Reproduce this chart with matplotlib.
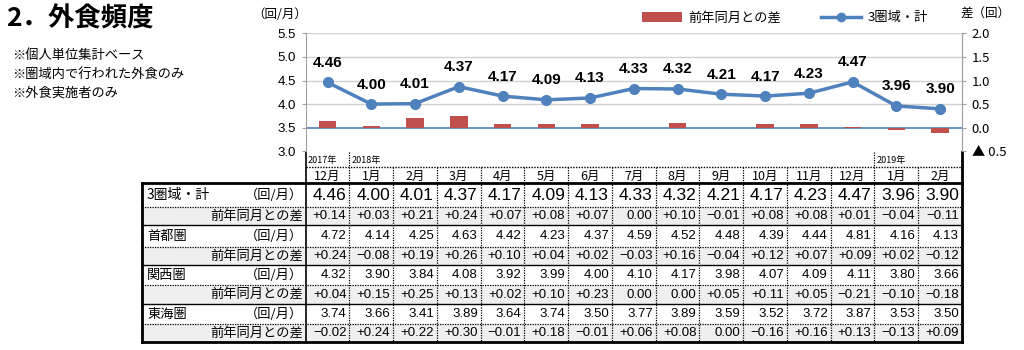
import matplotlib.pyplot as plt
from matplotlib.lines import Line2D
from matplotlib.patches import Patch, Rectangle

plt.rcParams['font.family'] = ['Noto Sans CJK JP', 'DejaVu Sans']
num_font = ['Liberation Sans', 'DejaVu Sans']

months = ['12月', '1月', '2月', '3月', '4月', '5月', '6月', '7月', '8月',
          '9月', '10月', '11月', '12月', '1月', '2月']
year_labels = ['2017年', '2018年', '2019年']
year_starts = [0, 1, 13]

total = [4.46, 4.00, 4.01, 4.37, 4.17, 4.09, 4.13, 4.33, 4.32, 4.21, 4.17, 4.23, 4.47, 3.96, 3.90]
total_diff = [0.14, 0.03, 0.21, 0.24, 0.07, 0.08, 0.07, 0.00, 0.10, -0.01, 0.08, 0.08, 0.01, -0.04, -0.11]
shutoken = [4.72, 4.14, 4.25, 4.63, 4.42, 4.23, 4.37, 4.59, 4.52, 4.48, 4.39, 4.44, 4.81, 4.16, 4.13]
shutoken_diff = [0.24, -0.08, 0.19, 0.26, 0.10, 0.04, 0.02, -0.03, 0.16, -0.04, 0.12, 0.07, 0.09, 0.02, -0.12]
kansai = [4.32, 3.90, 3.84, 4.08, 3.92, 3.99, 4.00, 4.10, 4.17, 3.98, 4.07, 4.09, 4.11, 3.80, 3.66]
kansai_diff = [0.04, 0.15, 0.25, 0.13, 0.02, 0.10, 0.23, 0.00, 0.00, 0.05, 0.11, 0.05, -0.21, -0.10, -0.18]
tokai = [3.74, 3.66, 3.41, 3.89, 3.64, 3.74, 3.50, 3.77, 3.89, 3.59, 3.52, 3.72, 3.87, 3.53, 3.50]
tokai_diff = [-0.02, 0.24, 0.22, 0.30, -0.01, 0.18, -0.01, 0.06, 0.08, 0.00, -0.16, 0.16, 0.13, -0.13, 0.09]

regions = ['3圏域・計', '首都圏', '関西圏', '東海圏']
region_vals = [total, shutoken, kansai, tokai]
region_diffs = [total_diff, shutoken_diff, kansai_diff, tokai_diff]

notes = ['※個人単位集計ベース', '※圏域内で行われた外食のみ', '※外食実施者のみ']

blue = '#4F81BD'
red = '#C0504D'


def fmt_diff(v):
    if abs(v) < 0.005:
        return '0.00'
    return ('+' if v > 0 else '\u2212') + f'{abs(v):.2f}'


W, H = 1024, 350
fig = plt.figure(figsize=(W / 100, H / 100), dpi=100)

# table layer in pixel coordinates
tab = fig.add_axes([0, 0, 1, 1])
tab.set_xlim(0, W)
tab.set_ylim(H, 0)
tab.axis('off')

x_left, x_data, x_right = 142, 305.7, 962
n = len(months)
cw = (x_right - x_data) / n
y_year, y_month, y_head = 152, 167, 183
row_edges = [183, 207, 225, 247, 265, 285, 304, 324, 342]
dot = (0, (1, 1))

# gray background on diff rows
for k in range(4):
    y0, y1 = row_edges[2 * k + 1], row_edges[2 * k + 2]
    tab.add_patch(Rectangle((x_left, y0), x_right - x_left, y1 - y0,
                            facecolor='#efefef', edgecolor='none'))

# horizontal rules
tab.plot([x_data, x_right], [y_month, y_month], color='k', lw=1, ls=dot)
tab.plot([x_left, x_right], [y_head, y_head], color='k', lw=2)
for k in range(4):
    ym = row_edges[2 * k + 1]
    tab.plot([x_left, x_right], [ym, ym], color='k', lw=0.9, ls=dot)
    if k < 3:
        yb = row_edges[2 * k + 2]
        tab.plot([x_left, x_right], [yb, yb], color='k', lw=1)
tab.plot([x_left, x_right], [row_edges[-1], row_edges[-1]], color='k', lw=2)

# vertical rules
tab.plot([x_left, x_left], [y_head, row_edges[-1]], color='k', lw=2)
tab.plot([x_data, x_data], [y_year, row_edges[-1]], color='k', lw=1.2)
tab.plot([x_right, x_right], [y_year, row_edges[-1]], color='k', lw=2)
for i in range(1, n):
    xb = x_data + i * cw
    top = y_year if i in year_starts else y_month
    tab.plot([xb, xb], [top, row_edges[-1]], color='k', lw=0.9, ls=dot)

# header texts
for lab, s in zip(year_labels, year_starts):
    tab.text(x_data + s * cw + 2, (y_year + y_month) / 2 + 1, lab,
             fontsize=6.5, ha='left', va='center')
for i, m in enumerate(months):
    tab.text(x_data + (i + 0.5) * cw, (y_month + y_head) / 2 + 1, m,
             fontsize=9, ha='center', va='center')

# body
for k, (name, vals, diffs) in enumerate(zip(regions, region_vals, region_diffs)):
    ya = (row_edges[2 * k] + row_edges[2 * k + 1]) / 2
    yd = (row_edges[2 * k + 1] + row_edges[2 * k + 2]) / 2
    big = k == 0
    tab.text(x_left + 5, ya, name, fontsize=10 if big else 9.5, ha='left', va='center')
    tab.text(x_data - 3, ya, '（回/月）', fontsize=9.5, ha='right', va='center')
    tab.text(x_data - 3, yd, '前年同月との差', fontsize=9.5, ha='right', va='center')
    for i in range(n):
        xr = x_data + (i + 1) * cw - 3
        tab.text(xr, ya, f'{vals[i]:.2f}', fontsize=12.5 if big else 9.5,
                 ha='right', va='center', family=num_font)
        tab.text(xr, yd, fmt_diff(diffs[i]), fontsize=9.5,
                 ha='right', va='center', family=num_font)

# title and notes
fig.text(6 / W, 1 - 19 / H, '2．外食頻度', fontsize=19, fontweight='bold',
         ha='left', va='center')
for j, t in enumerate(notes):
    fig.text(12 / W, 1 - (55 + j * 19) / H, t, fontsize=9.5, ha='left', va='center')

# chart
y_top, y_bot = 33.3, 151.3
ax = fig.add_axes([x_data / W, 1 - y_bot / H, (x_right - x_data) / W, (y_bot - y_top) / H])
ax.set_xlim(-0.5, n - 0.5)
ax.set_ylim(3.0, 5.5)
ax.set_yticks([3.0, 3.5, 4.0, 4.5, 5.0, 5.5])
ax.set_yticklabels([f'{v:.1f}' for v in [3.0, 3.5, 4.0, 4.5, 5.0, 5.5]], family=num_font)
ax.set_xticks([])
for v in [4.0, 4.5, 5.0, 5.5]:
    ax.axhline(v, color='#d0d0d0', lw=1, zorder=0)
ax.axhline(3.5, color=blue, lw=1.2, zorder=1)
for s in ['top', 'bottom']:
    ax.spines[s].set_visible(False)
ax.spines['left'].set_color('#a0a0a0')
ax.spines['right'].set_color('#a0a0a0')
ax.tick_params(axis='y', length=3, color='#a0a0a0', labelsize=9.5, pad=4)

ax2 = ax.twinx()
ax2.set_ylim(-0.5, 2.0)
ax2.set_yticks([-0.5, 0.0, 0.5, 1.0, 1.5, 2.0])
ax2.set_yticklabels(['▲ 0.5', '0.0', '0.5', '1.0', '1.5', '2.0'])
for s in ['top', 'bottom', 'left']:
    ax2.spines[s].set_visible(False)
ax2.spines['right'].set_color('#a0a0a0')
ax2.tick_params(axis='y', length=3, color='#a0a0a0', labelsize=9.5, pad=4)
xs = list(range(n))
ax2.bar(xs, total_diff, width=0.4, color=red, zorder=2)

ax2.plot(xs, total, color=blue, lw=2.5, marker='o', ms=7, zorder=3,
         transform=ax.transData)
for x, v in zip(xs, total):
    ax2.annotate(f'{v:.2f}', (x, v), xycoords=ax.transData, xytext=(0, 9),
                 textcoords='offset points', ha='center', va='bottom',
                 fontsize=11, fontweight='bold', family=num_font)

fig.text(280 / W, 1 - 14 / H, '（回/月）', fontsize=9, ha='center', va='center')
fig.text(985 / W, 1 - 14 / H, '差（回）', fontsize=9, ha='center', va='center')

handles = [Patch(facecolor=red), Line2D([], [], color=blue, lw=2.5, marker='o', ms=6)]
fig.legend(handles, ['前年同月との差', '3圏域・計'], loc='center',
           bbox_to_anchor=(785 / W, 1 - 18 / H), ncol=2, frameon=False,
           fontsize=9.5, handlelength=3, columnspacing=3, handletextpad=0.5)

fig.savefig('out.png', dpi=100)
